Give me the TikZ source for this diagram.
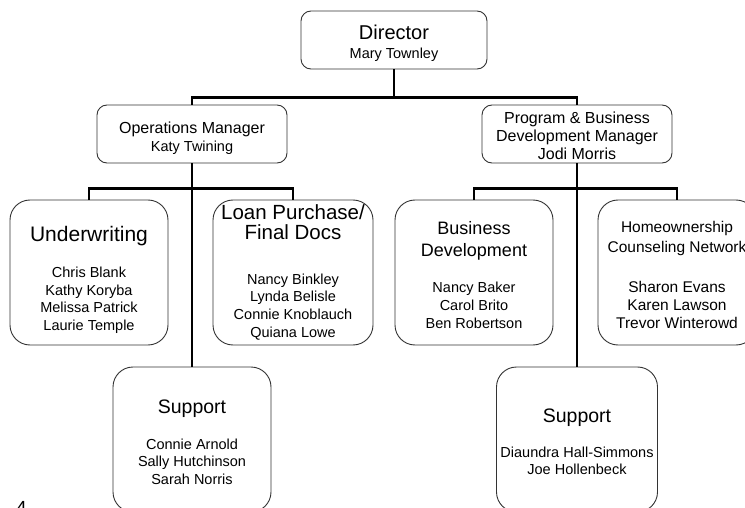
\documentclass[tikz,border=0pt]{standalone}
\usepackage{fontspec}
\setmainfont{Liberation Sans}
\begin{document}
\begin{tikzpicture}[
        x=1pt, y=-1pt,
        line join=miter
    ]
    \tikzset{
        headbox/.style = {rectangle, draw=black!80, line width=0.9pt, rounded corners=10pt, align=center, inner sep=0pt, minimum width=190pt, minimum height=58pt},
        unitbox/.style = {rectangle, draw=black!80, line width=0.9pt, rounded corners=20pt, align=center, inner sep=0pt, minimum width=158pt, minimum height=145pt},
        txt/.style = {font={\fontsize{14.5}{#1}\selectfont\lineskiplimit=-50pt}},
        conn/.style = {line width=2.7pt, draw=black}
    }
    \useasboundingbox (0,0) rectangle (745,508);
    \clip (0,0) rectangle (745,508);
    \fill[white] (0,0) rectangle (745,508);
    % top of the chart
    \node[headbox, minimum width=186pt, txt=19] (dir) at (394,40)
        {\rule{0pt}{20.3pt}{\fontsize{20}{20}\selectfont Director}\\Mary Townley};
    \node[headbox, txt=18] (ops) at (192,134)
        {\rule{0pt}{20.5pt}{\fontsize{16}{16}\selectfont Operations Manager}\\Katy Twining};
    \node[headbox, font={\fontsize{16}{18}\selectfont\lineskiplimit=-50pt}] (pbd) at (577,134)
        {\rule{0pt}{14.7pt}Program \& Business\\Development Manager\\Jodi Morris};
    % units
    \node[unitbox, txt=17.4] (uw) at (89,272.5)
        {\rule{0pt}{29.3pt}{\fontsize{21}{21}\selectfont Underwriting}\\[19.3pt]
         Chris Blank\\Kathy Koryba\\Melissa Patrick\\Laurie Temple};
    \node[unitbox, minimum width=160pt, txt=17.7] (loan) at (293,272.5)
        {{\fontsize{20.5}{20.5}\selectfont Loan Purchase/}\\[2.3pt]
         {\fontsize{20.5}{20.5}\selectfont Final Docs}\\[26.8pt]
         Nancy Binkley\\Lynda Belisle\\Connie Knoblauch\\Quiana Lowe};
    \node[unitbox, txt=18] (bd) at (474,272.5)
        {\rule{0pt}{17.9pt}{\fontsize{18}{18}\selectfont Business}\\[4pt]
         {\fontsize{18}{18}\selectfont Development}\\[17.6pt]
         Nancy Baker\\Carol Brito\\Ben Robertson};
    \node[unitbox, font={\fontsize{15.5}{18}\selectfont\lineskiplimit=-50pt}] (hcn) at (677,272.5)
        {\rule{0pt}{16.1pt}Homeownership\\[2pt]Counseling Network\\[22pt]
         Sharon Evans\\Karen Lawson\\Trevor Winterowd};
    \node[unitbox, txt=17.5] (supL) at (192,439.5)
        {\rule{0pt}{18.2pt}{\fontsize{19.5}{19.5}\selectfont Support}\\[18.5pt]
         Connie Arnold\\Sally Hutchinson\\Sarah Norris};
    \node[unitbox, minimum width=161pt, txt=17] (supR) at (577,439.5)
        {\rule{0pt}{18.2pt}{\fontsize{19.5}{19.5}\selectfont Support}\\[18pt]
         Diaundra Hall-Simmons\\Joe Hollenbeck};
    \node[font=\fontsize{19}{19}\selectfont, anchor=base west, inner sep=0pt] (pagenum) at (16,514) {4};
    % connectors
    \draw[conn] (dir.south) -- ++(0,28) coordinate (dirbar);
    \draw[conn] (ops.north) |- (dirbar) -| (pbd.north);
    \draw[conn] (ops.south) -- (supL.north);
    \path (ops.south) ++(0,25) coordinate (opsbar);
    \draw[conn] (uw.north) |- (opsbar) -| (loan.north);
    \draw[conn] (pbd.south) -- (supR.north);
    \path (pbd.south) ++(0,25) coordinate (pbdbar);
    \draw[conn] (bd.north) |- (pbdbar) -| (hcn.north);
\end{tikzpicture}
\end{document}
